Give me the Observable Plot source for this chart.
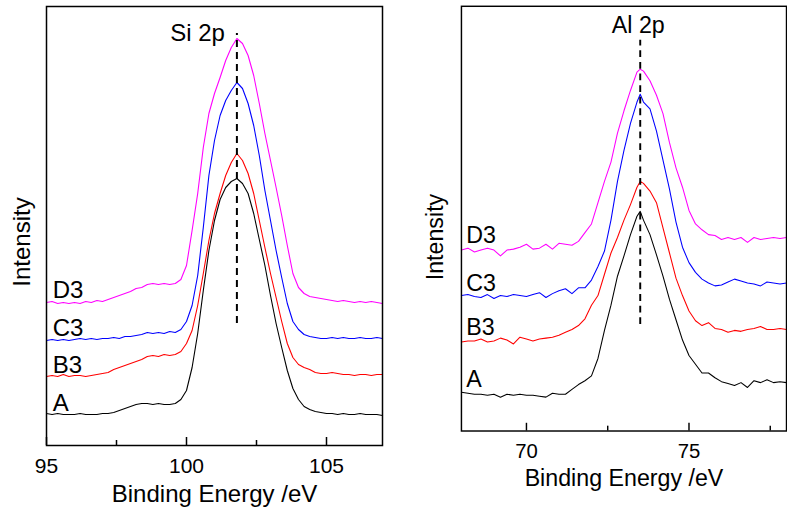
<!DOCTYPE html>
<html><head><meta charset="utf-8">
<script src="https://cdn.jsdelivr.net/npm/d3@7"></script>
<script src="https://cdn.jsdelivr.net/npm/@observablehq/plot@0.6"></script>
<style>
html,body{margin:0;padding:0;background:#fff;overflow:hidden;}
#wrap{position:relative;width:787px;height:513px;overflow:hidden;background:#fff;}
#left,#right{position:absolute;top:0;}
#left{left:0;}
#right{left:400px;}
</style></head>
<body><div id="wrap"><div id="left"></div><div id="right"></div></div>
<script>
// ---- shared ----
const seriesNames = ["D3", "C3", "B3", "A"];
const seriesColors = ["#ff00ff", "#0000ff", "#ff0000", "#000000"];
const xTitle = "Binding Energy /eV";
const yTitle = "Intensity";

// ---- Si 2p panel ----
const siEnergy = [95.0,95.2,95.4,95.6,95.8,96.0,96.2,96.4,96.6,96.8,
  97.0,97.2,97.4,97.6,97.8,98.0,98.2,98.4,98.6,98.8,
  99.0,99.2,99.4,99.6,99.8,100.0,100.2,100.4,100.6,100.8,
  101.0,101.2,101.4,101.6,101.8,102.0,102.2,102.4,102.6,102.8,
  103.0,103.2,103.4,103.6,103.8,104.0,104.2,104.4,104.6,104.8,
  105.0,105.2,105.4,105.6,105.8,106.0,106.2,106.4,106.6,106.8,107.0];
const siD3 = [143,144,142,143,142,143,142,144,143,145,
  144,146,148,150,152,154,157,158,161,162,
  161,162,161,162,166,180,215,252,298,332,
  352,368,385,398,407,402,390,370,342,312,
  285,258,230,200,172,158,152,149,148,147,
  146,145,144,145,144,143,144,143,144,143,142];
const siC3 = [105,106,105,106,105,106,107,106,107,106,
  107,107,108,107,109,109,110,111,113,112,
  113,112,114,113,116,124,140,170,218,270,
  305,330,345,355,363,357,342,320,290,255,
  225,195,168,142,124,116,111,109,108,107,
  107,108,107,108,107,107,108,107,107,108,107];
const siB3 = [69,70,69,71,69,70,70,69,70,71,
  72,73,76,78,80,82,84,86,89,90,
  89,91,90,91,94,102,115,140,172,205,
  232,252,270,283,292,285,272,252,225,198,
  172,148,124,102,88,81,78,76,73,72,
  72,73,72,71,71,70,71,71,70,71,71];
const siA = [32,31,32,31,31,31,32,31,31,31,
  32,32,33,35,37,39,41,42,42,41,
  42,41,41,42,46,55,78,112,155,195,
  225,246,258,264,267,262,252,232,206,180,
  150,122,98,75,57,46,39,36,34,33,
  32,32,31,32,31,31,32,31,31,31,30];
const siDomain = [95, 107];
const siMajorTicks = [95, 100, 105];
const siMinorTicks = [97.5, 102.5];
const siPeak = 101.8;
const siMarkerSpan = [122, 412];
const siLabel = "Si 2p";
const siLabelY = 412;
const siSeriesLabelX = 95.22;
const siSeriesLabelY = [155, 117, 80, 42];

// ---- Al 2p panel ----
const alEnergy = [68.0,68.2,68.4,68.6,68.8,69.0,69.2,69.4,69.6,69.8,
  70.0,70.2,70.4,70.6,70.8,71.0,71.2,71.4,71.6,71.8,
  72.0,72.2,72.4,72.6,72.8,73.0,73.2,73.4,73.5,73.6,73.8,
  74.0,74.2,74.4,74.6,74.8,75.0,75.2,75.4,75.6,75.8,
  76.0,76.2,76.4,76.6,76.8,77.0,77.2,77.4,77.6,77.8,78.0];
const alD3 = [187,189,185,187,189,187,181,187,188,190,
  193,188,189,193,188,194,193,192,196,205,
  214,236,258,278,308,331,352,371,374,372,362,
  347,328,298,272,252,228,214,208,203,202,
  198,200,198,200,195,200,198,199,200,199,200];
const alC3 = [140,141,139,138,141,137,140,139,141,140,
  139,141,143,138,142,145,147,142,148,148,
  156,170,186,218,258,290,318,340,348,340,333,
  310,280,250,216,190,174,164,157,153,150,
  151,154,157,155,153,152,150,154,153,152,153];
const alB3 = [92,93,93,95,92,93,96,94,90,97,
  95,93,95,96,97,99,102,105,109,116,
  130,140,162,184,200,218,234,252,258,256,248,
  236,210,184,158,140,124,114,109,112,106,
  105,102,104,103,105,106,108,105,105,106,105];
const alA = [40,39,38,38,37,38,35,38,37,38,
  37,37,36,35,39,38,38,43,48,52,
  57,75,104,130,160,181,203,222,227,218,203,
  182,160,136,115,94,78,69,60,60,55,
  51,49,47,50,45,52,50,53,50,51,50];
const alDomain = [68, 78];
const alMajorTicks = [70, 75];
const alMinorTicks = [72.5, 77.5];
const alPeak = 73.5;
const alMarkerSpan = [110, 404];
const alLabel = "Al 2p";
const alLabelY = 419;
const alSeriesLabelX = 68.15;
const alSeriesLabelY = [202, 152, 107, 53];

const H = 513, MT = 6, MB = 68;
const plotH = H - MT - MB;

function panel(o) {
  const rows = [];
  o.series.forEach((vals, k) => o.energy.forEach((e, i) => rows.push({series: seriesNames[k], energy: e, value: vals[i]})));
  return Plot.plot({
    width: o.width, height: H,
    marginTop: MT, marginBottom: MB, marginLeft: o.marginLeft, marginRight: o.marginRight,
    x: {domain: o.domain},
    y: {domain: [0, 439], axis: null},
    color: {domain: seriesNames, range: seriesColors},
    style: {fontFamily: "'Liberation Sans', Arial, Helvetica, sans-serif", background: "white", color: "black"},
    marks: [
      Plot.line(rows, {x: "energy", y: "value", z: "series", stroke: "series", strokeWidth: 1.1}),
      Plot.ruleX([o.peak], {x: d => d, y1: () => o.markerSpan[0], y2: () => o.markerSpan[1], stroke: "black", strokeWidth: 2, strokeDasharray: "7,5"}),
      Plot.text([o.label], {x: () => o.peak, y: () => o.labelY, text: d => d, textAnchor: o.labelAnchor, lineAnchor: "middle", dx: o.labelDx, fontSize: 24, fill: "black"}),
      Plot.text(seriesNames, {x: () => o.seriesLabelX, y: (d, i) => o.seriesLabelY[i], text: d => d, textAnchor: "start", lineAnchor: "middle", fontSize: 24, fill: "black"}),
      Plot.ruleX(o.majorTicks, {x: d => d, insetTop: plotH - 8, stroke: "black", strokeWidth: 1.5}),
      Plot.ruleX(o.minorTicks, {x: d => d, insetTop: plotH - 5, stroke: "black", strokeWidth: 1.5}),
      Plot.axisX({ticks: o.majorTicks, tickSize: 0, tickPadding: 13, fontSize: 21, label: null, fill: "black"}),
      Plot.text([xTitle], {frameAnchor: "bottom", lineAnchor: "middle", textAnchor: "middle", dy: 49, text: d => d, fontSize: 24, fill: "black"}),
      Plot.text([yTitle], {frameAnchor: "left", lineAnchor: "middle", textAnchor: "middle", rotate: -90, dx: o.intensityDx, dy: o.intensityDy, text: d => d, fontSize: 24, fill: "black"}),
      Plot.frame({stroke: "black", strokeWidth: 1.5})
    ]
  });
}

document.getElementById("left").appendChild(panel({
  width: 400, marginLeft: 46, marginRight: 18,
  energy: siEnergy, series: [siD3, siC3, siB3, siA], domain: siDomain,
  majorTicks: siMajorTicks, minorTicks: siMinorTicks,
  peak: siPeak, markerSpan: siMarkerSpan, label: siLabel, labelY: siLabelY, labelAnchor: "end", labelDx: -12,
  seriesLabelX: siSeriesLabelX, seriesLabelY: siSeriesLabelY,
  intensityDx: -24, intensityDy: 16
}));
document.getElementById("right").appendChild(panel({
  width: 400, marginLeft: 63, marginRight: 1,
  energy: alEnergy, series: [alD3, alC3, alB3, alA], domain: alDomain,
  majorTicks: alMajorTicks, minorTicks: alMinorTicks,
  peak: alPeak, markerSpan: alMarkerSpan, label: alLabel, labelY: alLabelY, labelAnchor: "middle", labelDx: -2,
  seriesLabelX: alSeriesLabelX, seriesLabelY: alSeriesLabelY,
  intensityDx: -27, intensityDy: 19
}));
</script>
</body></html>
